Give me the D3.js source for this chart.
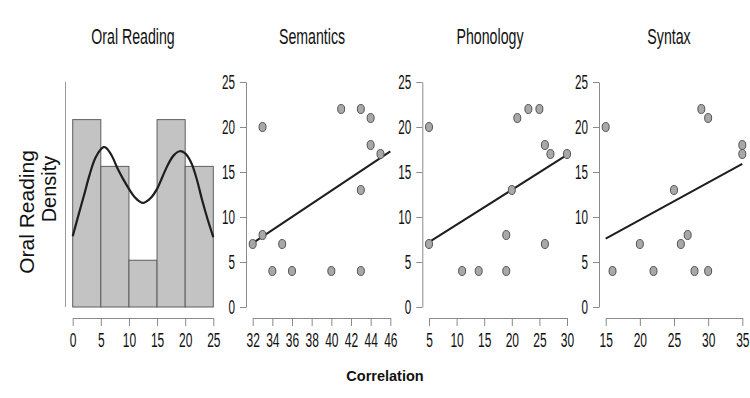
<!DOCTYPE html>
<html>
<head>
<meta charset="utf-8">
<script src="https://cdn.jsdelivr.net/npm/d3@7"></script>
<style>
  body { margin: 0; background: #fff; }
  svg { display: block; }
</style>
</head>
<body>
<div id="chart"></div>
<script>
// panel titles
const titles = ['Oral Reading', 'Semantics', 'Phonology', 'Syntax'];

// histogram of oral reading (density per bin)
const binEdges = [0, 5, 10, 15, 20, 25];
const binDensity = [0.0533, 0.0400, 0.0133, 0.0533, 0.0400];
const histTicks = [0, 5, 10, 15, 20, 25];

// density curve [x, density]
const densityCurve = [
  [0, 0.0201], [1, 0.0260], [2, 0.0317], [3, 0.0376], [4, 0.0423], [5, 0.0449],
  [5.5, 0.0455], [6, 0.0452], [7, 0.0429], [8, 0.0393], [9, 0.0363], [10, 0.0336],
  [11, 0.0313], [12, 0.0299], [12.5, 0.0296], [13, 0.0299], [14, 0.0312], [15, 0.0336],
  [16, 0.0372], [17, 0.0407], [18, 0.0432], [19, 0.0443], [20, 0.0437], [21, 0.0413],
  [22, 0.0367], [23, 0.0305], [24, 0.0249], [25, 0.0199]
];

// scatter panels: x = score, y = oral reading
const semX = [32, 33, 33, 34, 35, 36, 40, 41, 43, 43, 43, 44, 44, 45];
const semY = [7, 8, 20, 4, 7, 4, 4, 22, 22, 13, 4, 21, 18, 17];
const semFit = [[32, 7.1], [46, 17.3]];
const semTicks = [32, 34, 36, 38, 40, 42, 44, 46];

const phonX = [5, 5, 11, 14, 19, 19, 20, 21, 23, 25, 26, 26, 27, 30];
const phonY = [20, 7, 4, 4, 4, 8, 13, 21, 22, 22, 18, 7, 17, 17];
const phonFit = [[5, 7.2], [30, 16.9]];
const phonTicks = [5, 10, 15, 20, 25, 30];

const synX = [15, 16, 20, 22, 25, 26, 27, 28, 29, 30, 30, 35, 35];
const synY = [20, 4, 7, 4, 13, 7, 8, 4, 22, 21, 4, 18, 17];
const synFit = [[15, 7.6], [35, 15.9]];
const synTicks = [15, 20, 25, 30, 35];

const yTicks = [0, 5, 10, 15, 20, 25];

const width = 750;
const height = 398;
const font = '"Liberation Sans", Arial, Helvetica, sans-serif';
const squeeze = 0.6;   // text in the figure is horizontally compressed
const yTop = 82, yBot = 307, xAxisY = 318;

const svg = d3.select('#chart')
  .append('svg')
  .attr('width', width)
  .attr('height', height)
  .attr('viewBox', [0, 0, width, height]);

const y = d3.scaleLinear().domain([0, 25]).range([yBot, yTop]);

function bottomAxis(g, x, ticks) {
  g.attr('transform', `translate(0,${xAxisY})`)
    .call(d3.axisBottom(x).tickValues(ticks).tickSize(8).tickSizeOuter(0).tickPadding(7))
    .call(g => g.selectAll('path, line').attr('stroke', '#8a8a8a'))
    .call(g => g.selectAll('text')
      .attr('fill', '#111')
      .attr('font-family', font)
      .attr('font-size', '20px')
      .attr('transform', `scale(${squeeze},1)`)
      .attr('x', 0));
}

function leftAxis(g, x0) {
  g.attr('transform', `translate(${x0},0)`)
    .call(d3.axisLeft(y).tickValues(yTicks).tickSize(6).tickSizeOuter(0))
    .call(g => g.selectAll('path, line').attr('stroke', '#8a8a8a'))
    .call(g => g.selectAll('text')
      .attr('fill', '#111')
      .attr('font-family', font)
      .attr('font-size', '19.5px')
      .attr('transform', `scale(${squeeze},1)`)
      .attr('x', -11 / squeeze));
}

// ---- histogram panel ----
const hx = d3.scaleLinear().domain([0, 25]).range([72.7, 213.3]);
const hy = d3.scaleLinear().domain([0, 0.064]).range([yBot, yBot - 225]);

svg.append('line')
  .attr('x1', 65.5).attr('x2', 65.5)
  .attr('y1', yTop).attr('y2', yBot)
  .attr('stroke', '#9a9a9a');

svg.append('g')
  .selectAll('rect')
  .data(binDensity)
  .join('rect')
    .attr('x', (d, i) => hx(binEdges[i]))
    .attr('y', d => hy(d))
    .attr('width', (d, i) => hx(binEdges[i + 1]) - hx(binEdges[i]))
    .attr('height', d => hy(0) - hy(d))
    .attr('fill', '#c3c3c3')
    .attr('stroke', '#5e5e5e')
    .attr('stroke-width', 1);

svg.append('path')
  .datum(densityCurve)
  .attr('fill', 'none')
  .attr('stroke', '#1e1e1e')
  .attr('stroke-width', 2.2)
  .attr('d', d3.line().x(d => hx(d[0])).y(d => hy(d[1])).curve(d3.curveCatmullRom));

svg.append('g').call(bottomAxis, hx, histTicks);

// ---- scatter panels ----
const panels = [
  { xs: semX, ys: semY, fit: semFit, ticks: semTicks, dom: [32, 46], range: [252.7, 390.3], axisX: 246 },
  { xs: phonX, ys: phonY, fit: phonFit, ticks: phonTicks, dom: [5, 30], range: [429, 567], axisX: 422.3 },
  { xs: synX, ys: synY, fit: synFit, ticks: synTicks, dom: [15, 35], range: [605.7, 742.3], axisX: 599 }
];

panels.forEach(p => {
  const x = d3.scaleLinear().domain(p.dom).range(p.range);
  svg.append('g').call(leftAxis, p.axisX);
  svg.append('g').call(bottomAxis, x, p.ticks);

  svg.append('line')
    .attr('x1', x(p.fit[0][0])).attr('y1', y(p.fit[0][1]))
    .attr('x2', x(p.fit[1][0])).attr('y2', y(p.fit[1][1]))
    .attr('stroke', '#1e1e1e')
    .attr('stroke-width', 2);

  svg.append('g')
    .selectAll('ellipse')
    .data(p.xs.map((v, i) => [v, p.ys[i]]))
    .join('ellipse')
      .attr('cx', d => x(d[0]))
      .attr('cy', d => y(d[1]))
      .attr('rx', 3.5)
      .attr('ry', 4.5)
      .attr('fill', '#a8a8a8')
      .attr('stroke', '#555')
      .attr('stroke-width', 1);
});

// ---- titles and labels ----
const titleX = [133, 312, 490, 669];
svg.append('g')
  .selectAll('text')
  .data(titles)
  .join('text')
    .attr('transform', (d, i) => `translate(${titleX[i]},44) scale(0.63,1)`)
    .attr('text-anchor', 'middle')
    .attr('font-family', font)
    .attr('font-size', '22.5px')
    .attr('fill', '#111')
    .text(d => d);

svg.append('text')
  .attr('transform', 'translate(34,212) rotate(-90)')
  .attr('text-anchor', 'middle')
  .attr('font-family', font)
  .attr('font-size', '21px')
  .attr('fill', '#111')
  .text('Oral Reading');

svg.append('text')
  .attr('transform', 'translate(56,189) rotate(-90)')
  .attr('text-anchor', 'middle')
  .attr('font-family', font)
  .attr('font-size', '20px')
  .attr('fill', '#111')
  .text('Density');

svg.append('text')
  .attr('x', 385)
  .attr('y', 381)
  .attr('text-anchor', 'middle')
  .attr('font-family', font)
  .attr('font-size', '14.5px')
  .attr('font-weight', 'bold')
  .attr('fill', '#111')
  .text('Correlation');
</script>
</body>
</html>
